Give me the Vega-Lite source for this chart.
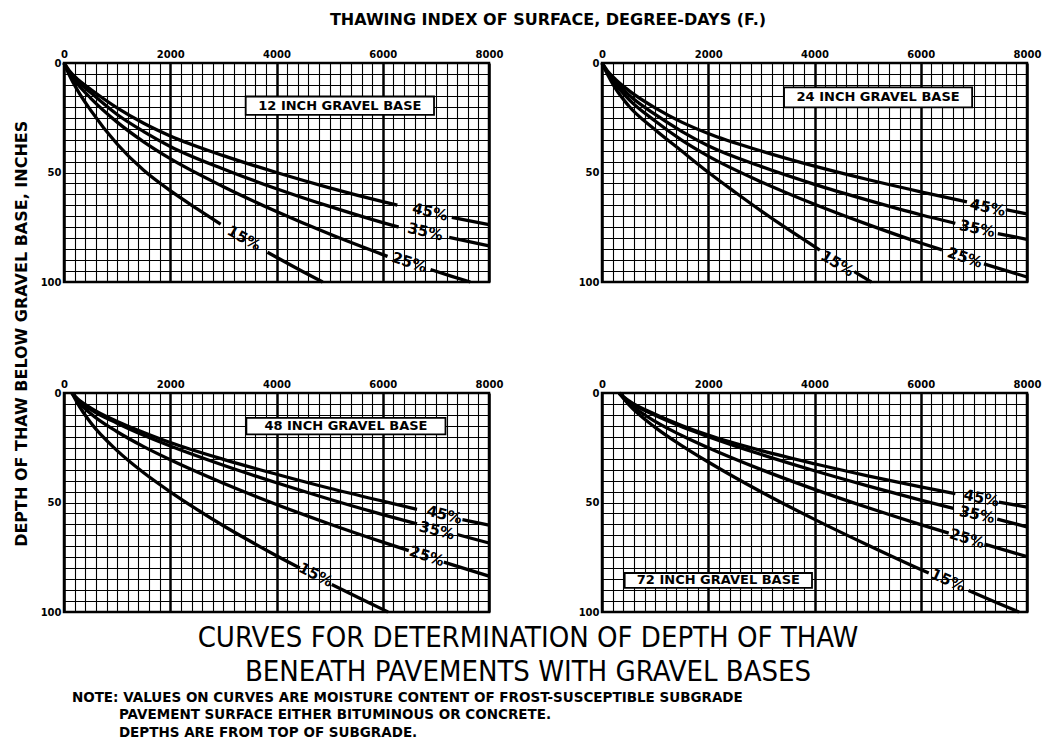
{
  "$schema": "https://vega.github.io/schema/vega-lite/v6.json",
  "background": "white",
  "padding": {"left": 13, "top": 11, "right": 4, "bottom": 0},
  "datasets": {
    "rows": [
      {"panel": "12", "k": "box", "x": 3420, "x2": 6965, "d": 15.3, "d2": 23.7},
      {"panel": "24", "k": "box", "x": 3427, "x2": 6967, "d": 11.1, "d2": 20.3},
      {"panel": "48", "k": "box", "x": 3433, "x2": 7181, "d": 11.4, "d2": 18.9},
      {"panel": "72", "k": "box", "x": 427, "x2": 3953, "d": 82.2, "d2": 89.0},
      {"panel": "12", "k": "bt", "x": 5192, "d": 19.5, "t": "12 INCH GRAVEL BASE"},
      {"panel": "24", "k": "bt", "x": 5197, "d": 15.7, "t": "24 INCH  GRAVEL BASE"},
      {"panel": "48", "k": "bt", "x": 5307, "d": 15.2, "t": "48 INCH  GRAVEL BASE"},
      {"panel": "72", "k": "bt", "x": 2190, "d": 85.6, "t": "72 INCH  GRAVEL BASE"},

      {"panel": "12", "k": "lab", "m": "15", "t": "15%", "x": 3390, "d": 80},
      {"panel": "12", "k": "lab", "m": "25", "t": "25%", "x": 6500, "d": 91},
      {"panel": "12", "k": "lab", "m": "35", "t": "35%", "x": 6800, "d": 77},
      {"panel": "12", "k": "lab", "m": "45", "t": "45%", "x": 6890, "d": 68},
      {"panel": "24", "k": "lab", "m": "15", "t": "15%", "x": 4430, "d": 91.5},
      {"panel": "24", "k": "lab", "m": "25", "t": "25%", "x": 6830, "d": 88.8},
      {"panel": "24", "k": "lab", "m": "35", "t": "35%", "x": 7060, "d": 75.6},
      {"panel": "24", "k": "lab", "m": "45", "t": "45%", "x": 7260, "d": 66},
      {"panel": "48", "k": "lab", "m": "15", "t": "15%", "x": 4740, "d": 83},
      {"panel": "48", "k": "lab", "m": "25", "t": "25%", "x": 6830, "d": 74.5},
      {"panel": "48", "k": "lab", "m": "35", "t": "35%", "x": 7020, "d": 62.8},
      {"panel": "48", "k": "lab", "m": "45", "t": "45%", "x": 7160, "d": 55.6},
      {"panel": "72", "k": "lab", "m": "15", "t": "15%", "x": 6513, "d": 85.5},
      {"panel": "72", "k": "lab", "m": "25", "t": "25%", "x": 6871, "d": 66.4},
      {"panel": "72", "k": "lab", "m": "35", "t": "35%", "x": 7059, "d": 55.5},
      {"panel": "72", "k": "lab", "m": "45", "t": "45%", "x": 7141, "d": 48},

      {"panel": "12", "k": "l", "g": "15a", "x": 0, "d": 0},
      {"panel": "12", "k": "l", "g": "15a", "x": 100, "d": 5.5},
      {"panel": "12", "k": "l", "g": "15a", "x": 250, "d": 12.3},
      {"panel": "12", "k": "l", "g": "15a", "x": 500, "d": 21.5},
      {"panel": "12", "k": "l", "g": "15a", "x": 1000, "d": 37},
      {"panel": "12", "k": "l", "g": "15a", "x": 1500, "d": 49},
      {"panel": "12", "k": "l", "g": "15a", "x": 2000, "d": 58.3},
      {"panel": "12", "k": "l", "g": "15a", "x": 2500, "d": 66.5},
      {"panel": "12", "k": "l", "g": "15a", "x": 2950, "d": 73.6},
      {"panel": "12", "k": "l", "g": "15b", "x": 3830, "d": 86.4},
      {"panel": "12", "k": "l", "g": "15b", "x": 4000, "d": 88.7},
      {"panel": "12", "k": "l", "g": "15b", "x": 4500, "d": 95.3},
      {"panel": "12", "k": "l", "g": "15b", "x": 4870, "d": 100},
      {"panel": "12", "k": "l", "g": "25a", "x": 0, "d": 0},
      {"panel": "12", "k": "l", "g": "25a", "x": 100, "d": 4.6},
      {"panel": "12", "k": "l", "g": "25a", "x": 250, "d": 9.5},
      {"panel": "12", "k": "l", "g": "25a", "x": 500, "d": 16},
      {"panel": "12", "k": "l", "g": "25a", "x": 1000, "d": 27},
      {"panel": "12", "k": "l", "g": "25a", "x": 1500, "d": 36},
      {"panel": "12", "k": "l", "g": "25a", "x": 2000, "d": 43.7},
      {"panel": "12", "k": "l", "g": "25a", "x": 3000, "d": 56.5},
      {"panel": "12", "k": "l", "g": "25a", "x": 4000, "d": 67.8},
      {"panel": "12", "k": "l", "g": "25a", "x": 5000, "d": 78.1},
      {"panel": "12", "k": "l", "g": "25a", "x": 6090, "d": 88.3},
      {"panel": "12", "k": "l", "g": "25b", "x": 6900, "d": 94.3},
      {"panel": "12", "k": "l", "g": "25b", "x": 7300, "d": 97.4},
      {"panel": "12", "k": "l", "g": "25b", "x": 7650, "d": 100},
      {"panel": "12", "k": "l", "g": "35a", "x": 0, "d": 0},
      {"panel": "12", "k": "l", "g": "35a", "x": 100, "d": 4},
      {"panel": "12", "k": "l", "g": "35a", "x": 250, "d": 8.2},
      {"panel": "12", "k": "l", "g": "35a", "x": 500, "d": 13.5},
      {"panel": "12", "k": "l", "g": "35a", "x": 1000, "d": 23.5},
      {"panel": "12", "k": "l", "g": "35a", "x": 1500, "d": 31.3},
      {"panel": "12", "k": "l", "g": "35a", "x": 2000, "d": 38.1},
      {"panel": "12", "k": "l", "g": "35a", "x": 3000, "d": 48.4},
      {"panel": "12", "k": "l", "g": "35a", "x": 4000, "d": 57.4},
      {"panel": "12", "k": "l", "g": "35a", "x": 5000, "d": 65.5},
      {"panel": "12", "k": "l", "g": "35a", "x": 6000, "d": 72.9},
      {"panel": "12", "k": "l", "g": "35a", "x": 6300, "d": 74.9},
      {"panel": "12", "k": "l", "g": "35b", "x": 7250, "d": 79.6},
      {"panel": "12", "k": "l", "g": "35b", "x": 8000, "d": 83.5},
      {"panel": "12", "k": "l", "g": "45a", "x": 0, "d": 0},
      {"panel": "12", "k": "l", "g": "45a", "x": 100, "d": 3.5},
      {"panel": "12", "k": "l", "g": "45a", "x": 250, "d": 7.3},
      {"panel": "12", "k": "l", "g": "45a", "x": 500, "d": 12},
      {"panel": "12", "k": "l", "g": "45a", "x": 1000, "d": 20.5},
      {"panel": "12", "k": "l", "g": "45a", "x": 1500, "d": 27.5},
      {"panel": "12", "k": "l", "g": "45a", "x": 2000, "d": 33.3},
      {"panel": "12", "k": "l", "g": "45a", "x": 3000, "d": 42.3},
      {"panel": "12", "k": "l", "g": "45a", "x": 4000, "d": 50},
      {"panel": "12", "k": "l", "g": "45a", "x": 5000, "d": 57},
      {"panel": "12", "k": "l", "g": "45a", "x": 6000, "d": 63.3},
      {"panel": "12", "k": "l", "g": "45a", "x": 6275, "d": 64.9},
      {"panel": "12", "k": "l", "g": "45b", "x": 7300, "d": 70.5},
      {"panel": "12", "k": "l", "g": "45b", "x": 8000, "d": 73.8},

      {"panel": "24", "k": "l", "g": "15a", "x": 0, "d": 0},
      {"panel": "24", "k": "l", "g": "15a", "x": 100, "d": 5},
      {"panel": "24", "k": "l", "g": "15a", "x": 250, "d": 11.5},
      {"panel": "24", "k": "l", "g": "15a", "x": 500, "d": 19.5},
      {"panel": "24", "k": "l", "g": "15a", "x": 1000, "d": 30.5},
      {"panel": "24", "k": "l", "g": "15a", "x": 1500, "d": 40.2},
      {"panel": "24", "k": "l", "g": "15a", "x": 2000, "d": 49.9},
      {"panel": "24", "k": "l", "g": "15a", "x": 2500, "d": 58.9},
      {"panel": "24", "k": "l", "g": "15a", "x": 3000, "d": 67.6},
      {"panel": "24", "k": "l", "g": "15a", "x": 3500, "d": 75.9},
      {"panel": "24", "k": "l", "g": "15a", "x": 4100, "d": 85.4},
      {"panel": "24", "k": "l", "g": "15b", "x": 4750, "d": 95.3},
      {"panel": "24", "k": "l", "g": "15b", "x": 5000, "d": 99},
      {"panel": "24", "k": "l", "g": "15b", "x": 5070, "d": 100},
      {"panel": "24", "k": "l", "g": "25a", "x": 0, "d": 0},
      {"panel": "24", "k": "l", "g": "25a", "x": 100, "d": 4.4},
      {"panel": "24", "k": "l", "g": "25a", "x": 250, "d": 9.6},
      {"panel": "24", "k": "l", "g": "25a", "x": 500, "d": 16.5},
      {"panel": "24", "k": "l", "g": "25a", "x": 1000, "d": 26.5},
      {"panel": "24", "k": "l", "g": "25a", "x": 1500, "d": 35.2},
      {"panel": "24", "k": "l", "g": "25a", "x": 2000, "d": 42.5},
      {"panel": "24", "k": "l", "g": "25a", "x": 3000, "d": 54.3},
      {"panel": "24", "k": "l", "g": "25a", "x": 4000, "d": 64.5},
      {"panel": "24", "k": "l", "g": "25a", "x": 5000, "d": 73.7},
      {"panel": "24", "k": "l", "g": "25a", "x": 6000, "d": 82.2},
      {"panel": "24", "k": "l", "g": "25a", "x": 6400, "d": 85.3},
      {"panel": "24", "k": "l", "g": "25b", "x": 7190, "d": 91.7},
      {"panel": "24", "k": "l", "g": "25b", "x": 8000, "d": 97.7},
      {"panel": "24", "k": "l", "g": "35a", "x": 0, "d": 0},
      {"panel": "24", "k": "l", "g": "35a", "x": 100, "d": 4},
      {"panel": "24", "k": "l", "g": "35a", "x": 250, "d": 8.5},
      {"panel": "24", "k": "l", "g": "35a", "x": 500, "d": 14.5},
      {"panel": "24", "k": "l", "g": "35a", "x": 1000, "d": 23.5},
      {"panel": "24", "k": "l", "g": "35a", "x": 1500, "d": 31.2},
      {"panel": "24", "k": "l", "g": "35a", "x": 2000, "d": 37.8},
      {"panel": "24", "k": "l", "g": "35a", "x": 3000, "d": 47.3},
      {"panel": "24", "k": "l", "g": "35a", "x": 4000, "d": 55.4},
      {"panel": "24", "k": "l", "g": "35a", "x": 5000, "d": 62.6},
      {"panel": "24", "k": "l", "g": "35a", "x": 6000, "d": 69.3},
      {"panel": "24", "k": "l", "g": "35a", "x": 6650, "d": 73.2},
      {"panel": "24", "k": "l", "g": "35b", "x": 7450, "d": 77.9},
      {"panel": "24", "k": "l", "g": "35b", "x": 8000, "d": 80.5},
      {"panel": "24", "k": "l", "g": "45a", "x": 0, "d": 0},
      {"panel": "24", "k": "l", "g": "45a", "x": 100, "d": 3.5},
      {"panel": "24", "k": "l", "g": "45a", "x": 250, "d": 7.4},
      {"panel": "24", "k": "l", "g": "45a", "x": 500, "d": 12.5},
      {"panel": "24", "k": "l", "g": "45a", "x": 1000, "d": 20.5},
      {"panel": "24", "k": "l", "g": "45a", "x": 1500, "d": 27},
      {"panel": "24", "k": "l", "g": "45a", "x": 2000, "d": 32.2},
      {"panel": "24", "k": "l", "g": "45a", "x": 3000, "d": 40.2},
      {"panel": "24", "k": "l", "g": "45a", "x": 4000, "d": 47.1},
      {"panel": "24", "k": "l", "g": "45a", "x": 5000, "d": 53.2},
      {"panel": "24", "k": "l", "g": "45a", "x": 6000, "d": 58.8},
      {"panel": "24", "k": "l", "g": "45a", "x": 6870, "d": 63.4},
      {"panel": "24", "k": "l", "g": "45b", "x": 7600, "d": 67},
      {"panel": "24", "k": "l", "g": "45b", "x": 8000, "d": 68.9},

      {"panel": "48", "k": "l", "g": "15a", "x": 150, "d": 0},
      {"panel": "48", "k": "l", "g": "15a", "x": 250, "d": 4.5},
      {"panel": "48", "k": "l", "g": "15a", "x": 500, "d": 13.5},
      {"panel": "48", "k": "l", "g": "15a", "x": 1000, "d": 26.3},
      {"panel": "48", "k": "l", "g": "15a", "x": 1500, "d": 36.4},
      {"panel": "48", "k": "l", "g": "15a", "x": 2000, "d": 45.1},
      {"panel": "48", "k": "l", "g": "15a", "x": 2500, "d": 53.1},
      {"panel": "48", "k": "l", "g": "15a", "x": 3000, "d": 60.6},
      {"panel": "48", "k": "l", "g": "15a", "x": 3500, "d": 67.6},
      {"panel": "48", "k": "l", "g": "15a", "x": 4000, "d": 74.3},
      {"panel": "48", "k": "l", "g": "15a", "x": 4440, "d": 79.9},
      {"panel": "48", "k": "l", "g": "15b", "x": 5040, "d": 87.4},
      {"panel": "48", "k": "l", "g": "15b", "x": 5500, "d": 92.9},
      {"panel": "48", "k": "l", "g": "15b", "x": 6000, "d": 98.8},
      {"panel": "48", "k": "l", "g": "15b", "x": 6100, "d": 100},
      {"panel": "48", "k": "l", "g": "25a", "x": 150, "d": 0},
      {"panel": "48", "k": "l", "g": "25a", "x": 250, "d": 3.4},
      {"panel": "48", "k": "l", "g": "25a", "x": 500, "d": 9.4},
      {"panel": "48", "k": "l", "g": "25a", "x": 1000, "d": 17.7},
      {"panel": "48", "k": "l", "g": "25a", "x": 1500, "d": 24.5},
      {"panel": "48", "k": "l", "g": "25a", "x": 2000, "d": 30.5},
      {"panel": "48", "k": "l", "g": "25a", "x": 3000, "d": 41.2},
      {"panel": "48", "k": "l", "g": "25a", "x": 4000, "d": 50.9},
      {"panel": "48", "k": "l", "g": "25a", "x": 5000, "d": 59.8},
      {"panel": "48", "k": "l", "g": "25a", "x": 6000, "d": 68.1},
      {"panel": "48", "k": "l", "g": "25a", "x": 6490, "d": 72},
      {"panel": "48", "k": "l", "g": "25b", "x": 7150, "d": 77.2},
      {"panel": "48", "k": "l", "g": "25b", "x": 8000, "d": 83.6},
      {"panel": "48", "k": "l", "g": "35a", "x": 150, "d": 0},
      {"panel": "48", "k": "l", "g": "35a", "x": 250, "d": 2.8},
      {"panel": "48", "k": "l", "g": "35a", "x": 500, "d": 7.5},
      {"panel": "48", "k": "l", "g": "35a", "x": 1000, "d": 13.8},
      {"panel": "48", "k": "l", "g": "35a", "x": 1500, "d": 19.3},
      {"panel": "48", "k": "l", "g": "35a", "x": 2000, "d": 24.2},
      {"panel": "48", "k": "l", "g": "35a", "x": 3000, "d": 33},
      {"panel": "48", "k": "l", "g": "35a", "x": 4000, "d": 41},
      {"panel": "48", "k": "l", "g": "35a", "x": 5000, "d": 48.5},
      {"panel": "48", "k": "l", "g": "35a", "x": 6000, "d": 55.5},
      {"panel": "48", "k": "l", "g": "35a", "x": 6645, "d": 59.8},
      {"panel": "48", "k": "l", "g": "35b", "x": 7400, "d": 64.6},
      {"panel": "48", "k": "l", "g": "35b", "x": 8000, "d": 68.5},
      {"panel": "48", "k": "l", "g": "45a", "x": 150, "d": 0},
      {"panel": "48", "k": "l", "g": "45a", "x": 250, "d": 2.5},
      {"panel": "48", "k": "l", "g": "45a", "x": 500, "d": 6.8},
      {"panel": "48", "k": "l", "g": "45a", "x": 1000, "d": 13},
      {"panel": "48", "k": "l", "g": "45a", "x": 1500, "d": 18},
      {"panel": "48", "k": "l", "g": "45a", "x": 2000, "d": 22.6},
      {"panel": "48", "k": "l", "g": "45a", "x": 3000, "d": 30.3},
      {"panel": "48", "k": "l", "g": "45a", "x": 4000, "d": 37.1},
      {"panel": "48", "k": "l", "g": "45a", "x": 5000, "d": 43.5},
      {"panel": "48", "k": "l", "g": "45a", "x": 6000, "d": 49.4},
      {"panel": "48", "k": "l", "g": "45a", "x": 6645, "d": 53.1},
      {"panel": "48", "k": "l", "g": "45b", "x": 7500, "d": 57.8},
      {"panel": "48", "k": "l", "g": "45b", "x": 8000, "d": 60.3},

      {"panel": "72", "k": "l", "g": "15a", "x": 320, "d": 0},
      {"panel": "72", "k": "l", "g": "15a", "x": 500, "d": 5.2},
      {"panel": "72", "k": "l", "g": "15a", "x": 1000, "d": 15.7},
      {"panel": "72", "k": "l", "g": "15a", "x": 1500, "d": 24},
      {"panel": "72", "k": "l", "g": "15a", "x": 2000, "d": 31.5},
      {"panel": "72", "k": "l", "g": "15a", "x": 3000, "d": 45.2},
      {"panel": "72", "k": "l", "g": "15a", "x": 4000, "d": 57.7},
      {"panel": "72", "k": "l", "g": "15a", "x": 5000, "d": 69.4},
      {"panel": "72", "k": "l", "g": "15a", "x": 6000, "d": 80.6},
      {"panel": "72", "k": "l", "g": "15a", "x": 6150, "d": 82.2},
      {"panel": "72", "k": "l", "g": "15b", "x": 6900, "d": 90.2},
      {"panel": "72", "k": "l", "g": "15b", "x": 7400, "d": 95.4},
      {"panel": "72", "k": "l", "g": "15b", "x": 7850, "d": 100},
      {"panel": "72", "k": "l", "g": "25a", "x": 320, "d": 0},
      {"panel": "72", "k": "l", "g": "25a", "x": 500, "d": 4.4},
      {"panel": "72", "k": "l", "g": "25a", "x": 1000, "d": 13},
      {"panel": "72", "k": "l", "g": "25a", "x": 1500, "d": 19.4},
      {"panel": "72", "k": "l", "g": "25a", "x": 2000, "d": 25},
      {"panel": "72", "k": "l", "g": "25a", "x": 3000, "d": 35},
      {"panel": "72", "k": "l", "g": "25a", "x": 4000, "d": 44},
      {"panel": "72", "k": "l", "g": "25a", "x": 5000, "d": 52.3},
      {"panel": "72", "k": "l", "g": "25a", "x": 6000, "d": 60.1},
      {"panel": "72", "k": "l", "g": "25a", "x": 6526, "d": 64},
      {"panel": "72", "k": "l", "g": "25b", "x": 7200, "d": 69},
      {"panel": "72", "k": "l", "g": "25b", "x": 8000, "d": 74.7},
      {"panel": "72", "k": "l", "g": "35a", "x": 320, "d": 0},
      {"panel": "72", "k": "l", "g": "35a", "x": 500, "d": 3.8},
      {"panel": "72", "k": "l", "g": "35a", "x": 1000, "d": 10.2},
      {"panel": "72", "k": "l", "g": "35a", "x": 1500, "d": 15.4},
      {"panel": "72", "k": "l", "g": "35a", "x": 2000, "d": 19.9},
      {"panel": "72", "k": "l", "g": "35a", "x": 3000, "d": 28.1},
      {"panel": "72", "k": "l", "g": "35a", "x": 4000, "d": 35.5},
      {"panel": "72", "k": "l", "g": "35a", "x": 5000, "d": 42.4},
      {"panel": "72", "k": "l", "g": "35a", "x": 6000, "d": 48.9},
      {"panel": "72", "k": "l", "g": "35a", "x": 6620, "d": 52.7},
      {"panel": "72", "k": "l", "g": "35b", "x": 7440, "d": 57.6},
      {"panel": "72", "k": "l", "g": "35b", "x": 8000, "d": 61.1},
      {"panel": "72", "k": "l", "g": "45a", "x": 320, "d": 0},
      {"panel": "72", "k": "l", "g": "45a", "x": 500, "d": 3.5},
      {"panel": "72", "k": "l", "g": "45a", "x": 1000, "d": 9.7},
      {"panel": "72", "k": "l", "g": "45a", "x": 1500, "d": 14.8},
      {"panel": "72", "k": "l", "g": "45a", "x": 2000, "d": 19.2},
      {"panel": "72", "k": "l", "g": "45a", "x": 3000, "d": 26.3},
      {"panel": "72", "k": "l", "g": "45a", "x": 4000, "d": 32.3},
      {"panel": "72", "k": "l", "g": "45a", "x": 5000, "d": 37.8},
      {"panel": "72", "k": "l", "g": "45a", "x": 6000, "d": 42.9},
      {"panel": "72", "k": "l", "g": "45a", "x": 6652, "d": 46},
      {"panel": "72", "k": "l", "g": "45b", "x": 7470, "d": 49.8},
      {"panel": "72", "k": "l", "g": "45b", "x": 8000, "d": 52.1}
    ]
  },
  "title": {
    "text": [
      "NOTE: VALUES ON CURVES ARE MOISTURE CONTENT OF FROST-SUSCEPTIBLE SUBGRADE",
      "\u200b\u00a0\u00a0\u00a0\u00a0\u00a0\u00a0\u00a0\u00a0\u00a0\u00a0PAVEMENT SURFACE EITHER BITUMINOUS OR CONCRETE.",
      "\u200b\u00a0\u00a0\u00a0\u00a0\u00a0\u00a0\u00a0\u00a0\u00a0\u00a0DEPTHS ARE FROM TOP OF SUBGRADE."
    ],
    "orient": "bottom", "anchor": "start", "font": "DejaVu Sans", "fontSize": 13.5,
    "fontWeight": "bold", "color": "black", "lineHeight": 17.5, "offset": 4, "dx": 58
  },
  "vconcat": [
    {
      "title": {
        "text": ["CURVES FOR DETERMINATION  OF DEPTH OF THAW", "BENEATH PAVEMENTS WITH GRAVEL BASES"],
        "orient": "bottom", "anchor": "middle", "font": "DejaVu Sans Condensed, DejaVu Sans", "fontSize": 29,
        "fontWeight": "normal", "color": "black", "lineHeight": 34, "offset": 4
      },
      "vconcat": [
        {
          "title": {
            "text": "THAWING INDEX OF SURFACE, DEGREE-DAYS (F.)",
            "orient": "top", "anchor": "middle", "font": "DejaVu Sans", "fontSize": 16,
            "fontWeight": "bold", "color": "black", "offset": 20, "dx": 20
          },
          "vconcat": [
            {
              "title": {
                "text": "DEPTH OF THAW BELOW GRAVEL BASE, INCHES",
                "orient": "left", "anchor": "middle", "font": "DejaVu Sans", "fontSize": 16,
                "fontWeight": "bold", "color": "black", "offset": 9
              },
              "columns": 2,
              "spacing": {"row": 111, "column": 113},
              "bounds": "flush",
              "concat": [
                {
                  "data": {"name": "rows"},
                  "transform": [{"filter": "datum.panel === '12'"}],
                  "width": 425, "height": 219,
                  "encoding": {
                    "x": {"field": "x", "type": "quantitative", "scale": {"domain": [0, 8000], "nice": false, "zero": false},
                      "axis": {"orient": "top", "title": null, "values": [0,200,400,600,800,1000,1200,1400,1600,1800,2000,2200,2400,2600,2800,3000,3200,3400,3600,3800,4000,4200,4400,4600,4800,5000,5200,5400,5600,5800,6000,6200,6400,6600,6800,7000,7200,7400,7600,7800,8000], "format": "d", "labelExpr": "datum.value % 2000 === 0 ? datum.label : ''", "grid": true, "gridColor": "black", "gridOpacity": 1, "gridWidth": {"condition": {"test": "datum.value % 2000 === 0", "value": 2.5}, "value": 1.1}, "ticks": false, "tickSize": 0, "domain": false, "labelFont": "DejaVu Sans", "labelFontWeight": "bold", "labelFontSize": 10, "labelColor": "black", "labelPadding": 4, "labelOverlap": false, "labelFlush": false, "labelBound": false}},
                    "y": {"field": "d", "type": "quantitative", "scale": {"domain": [0, 100], "reverse": true, "nice": false},
                      "axis": {"title": null, "values": [0,5,10,15,20,25,30,35,40,45,50,55,60,65,70,75,80,85,90,95,100], "labelExpr": "datum.value % 50 === 0 ? datum.label : ''", "grid": true, "gridColor": "black", "gridOpacity": 1, "gridWidth": 1.1, "ticks": false, "tickSize": 0, "domain": false, "labelFont": "DejaVu Sans", "labelFontWeight": "bold", "labelFontSize": 10, "labelColor": "black", "labelPadding": 3, "labelOverlap": false, "labelFlush": false, "labelBound": false}}
                  },
                  "layer": [
                    {"transform": [{"filter": "datum.k === 'box'"}], "mark": {"type": "rect", "fill": "white", "stroke": "black", "strokeWidth": 1.8}, "encoding": {"x2": {"field": "x2"}, "y2": {"field": "d2"}}},
                    {"transform": [{"filter": "datum.k === 'bt'"}], "mark": {"type": "text", "font": "DejaVu Sans", "fontWeight": "bold", "fontSize": 13, "color": "black", "align": "center", "baseline": "middle"}, "encoding": {"text": {"field": "t"}}},
                    {"transform": [{"filter": "datum.k === 'l'"}], "mark": {"type": "line", "color": "black", "strokeWidth": 3.3, "interpolate": "monotone", "strokeCap": "butt"}, "encoding": {"detail": {"field": "g", "type": "nominal"}}},
                    {"transform": [{"filter": "datum.k === 'lab' && datum.m === '15'"}], "mark": {"type": "text", "font": "DejaVu Sans", "fontWeight": "bold", "fontSize": 15, "color": "black", "align": "center", "baseline": "middle", "angle": 29}, "encoding": {"text": {"field": "t"}}},
                    {"transform": [{"filter": "datum.k === 'lab' && datum.m === '25'"}], "mark": {"type": "text", "font": "DejaVu Sans", "fontWeight": "bold", "fontSize": 15, "color": "black", "align": "center", "baseline": "middle", "angle": 18}, "encoding": {"text": {"field": "t"}}},
                    {"transform": [{"filter": "datum.k === 'lab' && (datum.m === '35' || datum.m === '45')"}], "mark": {"type": "text", "font": "DejaVu Sans", "fontWeight": "bold", "fontSize": 15, "color": "black", "align": "center", "baseline": "middle", "angle": 13}, "encoding": {"text": {"field": "t"}}}
                  ]
                },
                {
                  "data": {"name": "rows"},
                  "transform": [{"filter": "datum.panel === '24'"}],
                  "width": 425, "height": 219,
                  "encoding": {
                    "x": {"field": "x", "type": "quantitative", "scale": {"domain": [0, 8000], "nice": false, "zero": false},
                      "axis": {"orient": "top", "title": null, "values": [0,200,400,600,800,1000,1200,1400,1600,1800,2000,2200,2400,2600,2800,3000,3200,3400,3600,3800,4000,4200,4400,4600,4800,5000,5200,5400,5600,5800,6000,6200,6400,6600,6800,7000,7200,7400,7600,7800,8000], "format": "d", "labelExpr": "datum.value % 2000 === 0 ? datum.label : ''", "grid": true, "gridColor": "black", "gridOpacity": 1, "gridWidth": {"condition": {"test": "datum.value % 2000 === 0", "value": 2.5}, "value": 1.1}, "ticks": false, "tickSize": 0, "domain": false, "labelFont": "DejaVu Sans", "labelFontWeight": "bold", "labelFontSize": 10, "labelColor": "black", "labelPadding": 4, "labelOverlap": false, "labelFlush": false, "labelBound": false}},
                    "y": {"field": "d", "type": "quantitative", "scale": {"domain": [0, 100], "reverse": true, "nice": false},
                      "axis": {"title": null, "values": [0,5,10,15,20,25,30,35,40,45,50,55,60,65,70,75,80,85,90,95,100], "labelExpr": "datum.value % 50 === 0 ? datum.label : ''", "grid": true, "gridColor": "black", "gridOpacity": 1, "gridWidth": 1.1, "ticks": false, "tickSize": 0, "domain": false, "labelFont": "DejaVu Sans", "labelFontWeight": "bold", "labelFontSize": 10, "labelColor": "black", "labelPadding": 3, "labelOverlap": false, "labelFlush": false, "labelBound": false}}
                  },
                  "layer": [
                    {"transform": [{"filter": "datum.k === 'box'"}], "mark": {"type": "rect", "fill": "white", "stroke": "black", "strokeWidth": 1.8}, "encoding": {"x2": {"field": "x2"}, "y2": {"field": "d2"}}},
                    {"transform": [{"filter": "datum.k === 'bt'"}], "mark": {"type": "text", "font": "DejaVu Sans", "fontWeight": "bold", "fontSize": 13, "color": "black", "align": "center", "baseline": "middle"}, "encoding": {"text": {"field": "t"}}},
                    {"transform": [{"filter": "datum.k === 'l'"}], "mark": {"type": "line", "color": "black", "strokeWidth": 3.3, "interpolate": "monotone", "strokeCap": "butt"}, "encoding": {"detail": {"field": "g", "type": "nominal"}}},
                    {"transform": [{"filter": "datum.k === 'lab' && datum.m === '15'"}], "mark": {"type": "text", "font": "DejaVu Sans", "fontWeight": "bold", "fontSize": 15, "color": "black", "align": "center", "baseline": "middle", "angle": 31}, "encoding": {"text": {"field": "t"}}},
                    {"transform": [{"filter": "datum.k === 'lab' && datum.m === '25'"}], "mark": {"type": "text", "font": "DejaVu Sans", "fontWeight": "bold", "fontSize": 15, "color": "black", "align": "center", "baseline": "middle", "angle": 18}, "encoding": {"text": {"field": "t"}}},
                    {"transform": [{"filter": "datum.k === 'lab' && (datum.m === '35' || datum.m === '45')"}], "mark": {"type": "text", "font": "DejaVu Sans", "fontWeight": "bold", "fontSize": 15, "color": "black", "align": "center", "baseline": "middle", "angle": 12}, "encoding": {"text": {"field": "t"}}}
                  ]
                },
                {
                  "data": {"name": "rows"},
                  "transform": [{"filter": "datum.panel === '48'"}],
                  "width": 425, "height": 219,
                  "encoding": {
                    "x": {"field": "x", "type": "quantitative", "scale": {"domain": [0, 8000], "nice": false, "zero": false},
                      "axis": {"orient": "top", "title": null, "values": [0,200,400,600,800,1000,1200,1400,1600,1800,2000,2200,2400,2600,2800,3000,3200,3400,3600,3800,4000,4200,4400,4600,4800,5000,5200,5400,5600,5800,6000,6200,6400,6600,6800,7000,7200,7400,7600,7800,8000], "format": "d", "labelExpr": "datum.value % 2000 === 0 ? datum.label : ''", "grid": true, "gridColor": "black", "gridOpacity": 1, "gridWidth": {"condition": {"test": "datum.value % 2000 === 0", "value": 2.5}, "value": 1.1}, "ticks": false, "tickSize": 0, "domain": false, "labelFont": "DejaVu Sans", "labelFontWeight": "bold", "labelFontSize": 10, "labelColor": "black", "labelPadding": 4, "labelOverlap": false, "labelFlush": false, "labelBound": false}},
                    "y": {"field": "d", "type": "quantitative", "scale": {"domain": [0, 100], "reverse": true, "nice": false},
                      "axis": {"title": null, "values": [0,5,10,15,20,25,30,35,40,45,50,55,60,65,70,75,80,85,90,95,100], "labelExpr": "datum.value % 50 === 0 ? datum.label : ''", "grid": true, "gridColor": "black", "gridOpacity": 1, "gridWidth": 1.1, "ticks": false, "tickSize": 0, "domain": false, "labelFont": "DejaVu Sans", "labelFontWeight": "bold", "labelFontSize": 10, "labelColor": "black", "labelPadding": 3, "labelOverlap": false, "labelFlush": false, "labelBound": false}}
                  },
                  "layer": [
                    {"transform": [{"filter": "datum.k === 'box'"}], "mark": {"type": "rect", "fill": "white", "stroke": "black", "strokeWidth": 1.8}, "encoding": {"x2": {"field": "x2"}, "y2": {"field": "d2"}}},
                    {"transform": [{"filter": "datum.k === 'bt'"}], "mark": {"type": "text", "font": "DejaVu Sans", "fontWeight": "bold", "fontSize": 13, "color": "black", "align": "center", "baseline": "middle"}, "encoding": {"text": {"field": "t"}}},
                    {"transform": [{"filter": "datum.k === 'l'"}], "mark": {"type": "line", "color": "black", "strokeWidth": 3.3, "interpolate": "monotone", "strokeCap": "butt"}, "encoding": {"detail": {"field": "g", "type": "nominal"}}},
                    {"transform": [{"filter": "datum.k === 'lab' && datum.m === '15'"}], "mark": {"type": "text", "font": "DejaVu Sans", "fontWeight": "bold", "fontSize": 15, "color": "black", "align": "center", "baseline": "middle", "angle": 27}, "encoding": {"text": {"field": "t"}}},
                    {"transform": [{"filter": "datum.k === 'lab' && datum.m === '25'"}], "mark": {"type": "text", "font": "DejaVu Sans", "fontWeight": "bold", "fontSize": 15, "color": "black", "align": "center", "baseline": "middle", "angle": 18}, "encoding": {"text": {"field": "t"}}},
                    {"transform": [{"filter": "datum.k === 'lab' && (datum.m === '35' || datum.m === '45')"}], "mark": {"type": "text", "font": "DejaVu Sans", "fontWeight": "bold", "fontSize": 15, "color": "black", "align": "center", "baseline": "middle", "angle": 14}, "encoding": {"text": {"field": "t"}}}
                  ]
                },
                {
                  "data": {"name": "rows"},
                  "transform": [{"filter": "datum.panel === '72'"}],
                  "width": 425, "height": 219,
                  "encoding": {
                    "x": {"field": "x", "type": "quantitative", "scale": {"domain": [0, 8000], "nice": false, "zero": false},
                      "axis": {"orient": "top", "title": null, "values": [0,200,400,600,800,1000,1200,1400,1600,1800,2000,2200,2400,2600,2800,3000,3200,3400,3600,3800,4000,4200,4400,4600,4800,5000,5200,5400,5600,5800,6000,6200,6400,6600,6800,7000,7200,7400,7600,7800,8000], "format": "d", "labelExpr": "datum.value % 2000 === 0 ? datum.label : ''", "grid": true, "gridColor": "black", "gridOpacity": 1, "gridWidth": {"condition": {"test": "datum.value % 2000 === 0", "value": 2.5}, "value": 1.1}, "ticks": false, "tickSize": 0, "domain": false, "labelFont": "DejaVu Sans", "labelFontWeight": "bold", "labelFontSize": 10, "labelColor": "black", "labelPadding": 4, "labelOverlap": false, "labelFlush": false, "labelBound": false}},
                    "y": {"field": "d", "type": "quantitative", "scale": {"domain": [0, 100], "reverse": true, "nice": false},
                      "axis": {"title": null, "values": [0,5,10,15,20,25,30,35,40,45,50,55,60,65,70,75,80,85,90,95,100], "labelExpr": "datum.value % 50 === 0 ? datum.label : ''", "grid": true, "gridColor": "black", "gridOpacity": 1, "gridWidth": 1.1, "ticks": false, "tickSize": 0, "domain": false, "labelFont": "DejaVu Sans", "labelFontWeight": "bold", "labelFontSize": 10, "labelColor": "black", "labelPadding": 3, "labelOverlap": false, "labelFlush": false, "labelBound": false}}
                  },
                  "layer": [
                    {"transform": [{"filter": "datum.k === 'box'"}], "mark": {"type": "rect", "fill": "white", "stroke": "black", "strokeWidth": 1.8}, "encoding": {"x2": {"field": "x2"}, "y2": {"field": "d2"}}},
                    {"transform": [{"filter": "datum.k === 'bt'"}], "mark": {"type": "text", "font": "DejaVu Sans", "fontWeight": "bold", "fontSize": 13, "color": "black", "align": "center", "baseline": "middle"}, "encoding": {"text": {"field": "t"}}},
                    {"transform": [{"filter": "datum.k === 'l'"}], "mark": {"type": "line", "color": "black", "strokeWidth": 3.3, "interpolate": "monotone", "strokeCap": "butt"}, "encoding": {"detail": {"field": "g", "type": "nominal"}}},
                    {"transform": [{"filter": "datum.k === 'lab' && datum.m === '15'"}], "mark": {"type": "text", "font": "DejaVu Sans", "fontWeight": "bold", "fontSize": 15, "color": "black", "align": "center", "baseline": "middle", "angle": 24}, "encoding": {"text": {"field": "t"}}},
                    {"transform": [{"filter": "datum.k === 'lab' && datum.m === '25'"}], "mark": {"type": "text", "font": "DejaVu Sans", "fontWeight": "bold", "fontSize": 15, "color": "black", "align": "center", "baseline": "middle", "angle": 17}, "encoding": {"text": {"field": "t"}}},
                    {"transform": [{"filter": "datum.k === 'lab' && (datum.m === '35' || datum.m === '45')"}], "mark": {"type": "text", "font": "DejaVu Sans", "fontWeight": "bold", "fontSize": 15, "color": "black", "align": "center", "baseline": "middle", "angle": 12}, "encoding": {"text": {"field": "t"}}}
                  ]
                }
              ]
            }
          ]
        }
      ]
    }
  ],
  "config": {
    "view": {"stroke": "black", "strokeWidth": 2.5},
    "concat": {"spacing": 0}
  }
}
